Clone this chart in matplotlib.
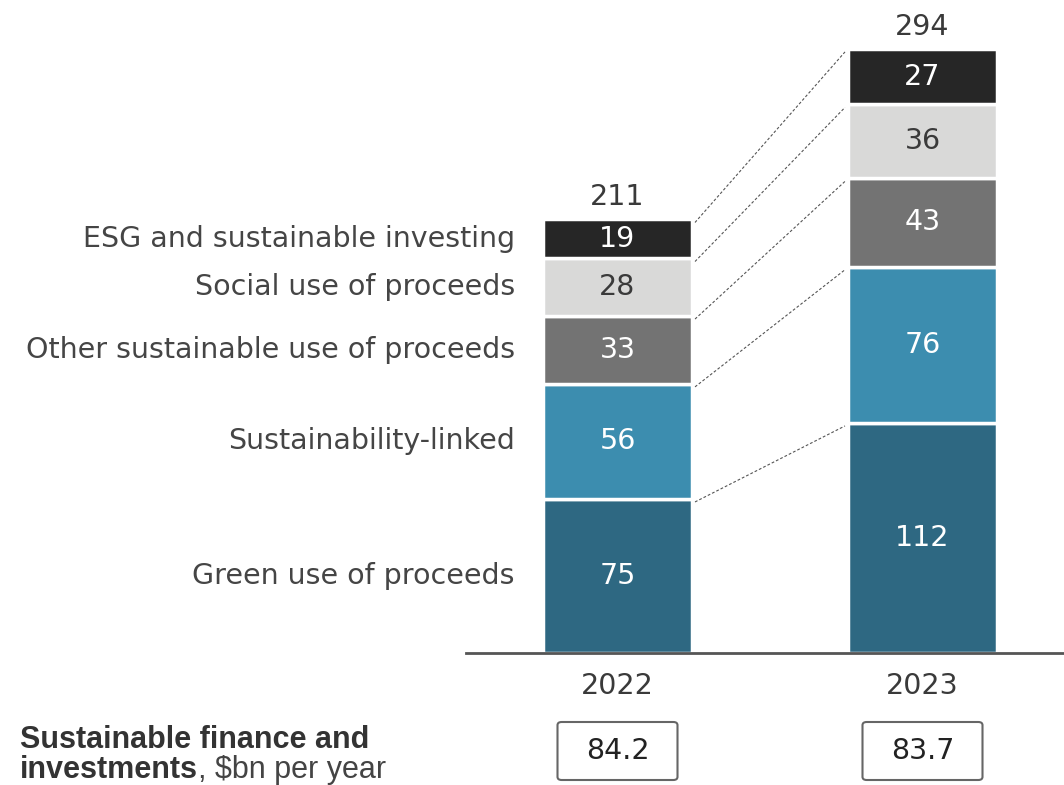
import matplotlib
matplotlib.use("Agg")
import matplotlib.pyplot as plt
from matplotlib.patches import FancyBboxPatch
import numpy as np

plt.rcParams['font.family'] = ['DejaVu Sans']

years = ["2022", "2023"]
categories = ["Green use of proceeds", "Sustainability-linked",
              "Other sustainable use of proceeds", "Social use of proceeds",
              "ESG and sustainable investing"]
values_2022 = [75, 56, 33, 28, 19]
values_2023 = [112, 76, 43, 36, 27]
totals = [211, 294]
per_year = ["84.2", "83.7"]
colors = ["#2E6882", "#3C8DAF", "#737373", "#D9D9D8", "#262626"]
text_colors = ["white", "white", "white", "#3a3a3a", "white"]

FS = 20.5
W, H = 1064, 785
fig = plt.figure(figsize=(W / 100, H / 100), dpi=100)
base_px = 653
ppu = 2.055
ax = fig.add_axes([466 / W, 1 - base_px / H, 1 - 466 / W, base_px / H])
ax.set_ylim(0, base_px / ppu)
spacing = 305.0
ax.set_xlim(-151.5 / spacing, (W - 617.5) / spacing)
width = 149 / spacing

x = np.arange(len(years))
data = np.array([values_2022, values_2023])
bottoms = np.zeros(len(years))
tops = []
for i, cat in enumerate(categories):
    vals = data[:, i]
    ax.bar(x, vals, width=width, bottom=bottoms, color=colors[i],
           edgecolor="white", linewidth=2.5, zorder=2)
    for j in range(len(years)):
        ax.text(x[j], bottoms[j] + vals[j] / 2, str(vals[j]), ha="center", va="center",
                fontsize=FS, color=text_colors[i], zorder=3)
    ax.text(x[0] - width / 2 - 28 / spacing, bottoms[0] + vals[0] / 2, cat,
            ha="right", va="center", fontsize=FS, color="#454545",
            clip_on=False)
    bottoms = bottoms + vals
    tops.append(bottoms.copy())

for t in tops:
    ax.plot([x[0] + width / 2 + 3 / spacing, x[1] - width / 2 - 3 / spacing],
            [t[0] - 1.5, t[1] - 1.5], color="#555555", linestyle=(0, (2.5, 1.8)),
            linewidth=0.8, zorder=1)

for j in range(len(years)):
    ax.text(x[j], totals[j] + 4, str(totals[j]), ha="center", va="bottom",
            fontsize=FS, color="#3a3a3a")

ax.set_xticks(x)
ax.set_xticklabels(years, fontsize=FS, color="#3a3a3a")
ax.tick_params(axis="x", length=0, pad=14)
ax.set_yticks([])
for s in ["top", "right", "left"]:
    ax.spines[s].set_visible(False)
ax.spines["bottom"].set_color("#555555")
ax.spines["bottom"].set_linewidth(2)

for j in range(len(years)):
    cx = (617.5 + spacing * j) / W
    bw, bh = 120 / W, 58 / H
    cy = 1 - 751 / H
    box = FancyBboxPatch((cx - bw / 2, cy - bh / 2), bw, bh,
                         boxstyle="round,pad=0,rounding_size=0.004",
                         transform=fig.transFigure, facecolor="white",
                         edgecolor="#666666", linewidth=1.5)
    fig.patches.append(box)
    fig.text(cx, cy, per_year[j], ha="center", va="center", fontsize=FS,
             color="#222222")

BF = ['Liberation Sans', 'DejaVu Sans']
BS = 22
fig.text(20 / W, 1 - 748 / H, "Sustainable finance and", ha="left", va="baseline",
         fontsize=BS, fontweight="bold", color="#333333", family=BF)
fig.text(20 / W, 1 - 778 / H, "investments", ha="left", va="baseline",
         fontsize=BS, fontweight="bold", color="#333333", family=BF)
t = fig.text(0, 0, "investments", fontsize=BS, fontweight="bold", family=BF)
fig.canvas.draw()
bb = t.get_window_extent()
t.remove()
fig.text((20 + bb.width) / W, 1 - 778 / H, ", $bn per year", ha="left", va="baseline",
         fontsize=BS, color="#444444", family=BF)

fig.savefig("out.png", dpi=100)
